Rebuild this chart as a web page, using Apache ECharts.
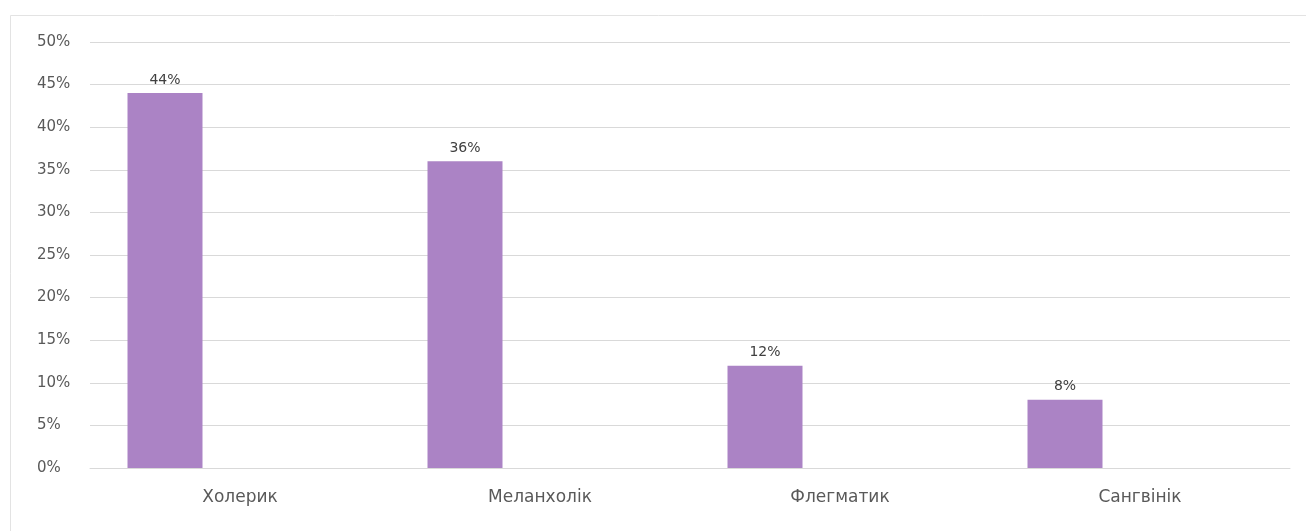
<!DOCTYPE html>
<html>
<head>
<meta charset="utf-8">
<script src="https://cdn.jsdelivr.net/npm/echarts@6/dist/echarts.min.js"></script>
<style>
  html, body { margin: 0; padding: 0; background: #fff; }
  #chart { width: 1306px; height: 531px; }
</style>
</head>
<body>
<div id="chart"></div>
<script>
// Temperament types and their shares (%)
const categories = ['Холерик', 'Меланхолік', 'Флегматик', 'Сангвінік'];
const shares = [44, 36, 12, 8];
// Empty companion series: keeps the bars in the left slot of each category
const emptySlot = ['-', '-', '-', '-'];
const yTicks = { min: 0, max: 50, step: 5 };

const chart = echarts.init(document.getElementById('chart'), null, { renderer: 'canvas' });
const font = '"DejaVu Sans", "Noto Sans", sans-serif';

chart.setOption({
  animation: false,
  backgroundColor: '#ffffff',
  graphic: [{
    type: 'rect',
    shape: { x: 10.5, y: 15.5, width: 1320, height: 540 },
    style: { fill: 'none', stroke: '#e3e3e3', lineWidth: 1 },
    silent: true
  }],
  grid: { left: 90, right: 16, top: 42, bottom: 63, containLabel: false },
  xAxis: {
    type: 'category',
    data: categories,
    axisLine: { show: true, lineStyle: { color: '#d9d9d9', width: 1 } },
    axisTick: { show: false },
    axisLabel: { color: '#595959', fontFamily: font, fontSize: 17, margin: 21 }
  },
  yAxis: {
    type: 'value',
    min: yTicks.min,
    max: yTicks.max,
    interval: yTicks.step,
    axisLine: { show: false },
    axisTick: { show: false },
    splitLine: { lineStyle: { color: '#d9d9d9', width: 1 } },
    axisLabel: {
      color: '#595959', fontFamily: font, fontSize: 15, margin: 53, align: 'left',
      formatter: v => v + '%'
    }
  },
  series: [
    {
      type: 'bar',
      data: shares,
      barWidth: 75,
      barGap: '100%',
      itemStyle: { color: '#ab83c5' },
      label: {
        show: true, position: 'top', distance: 6,
        color: '#404040', fontFamily: font, fontSize: 14,
        formatter: p => p.value + '%'
      }
    },
    {
      type: 'bar',
      data: emptySlot,
      barWidth: 75,
      itemStyle: { color: 'transparent' }
    }
  ]
});
</script>
</body>
</html>
